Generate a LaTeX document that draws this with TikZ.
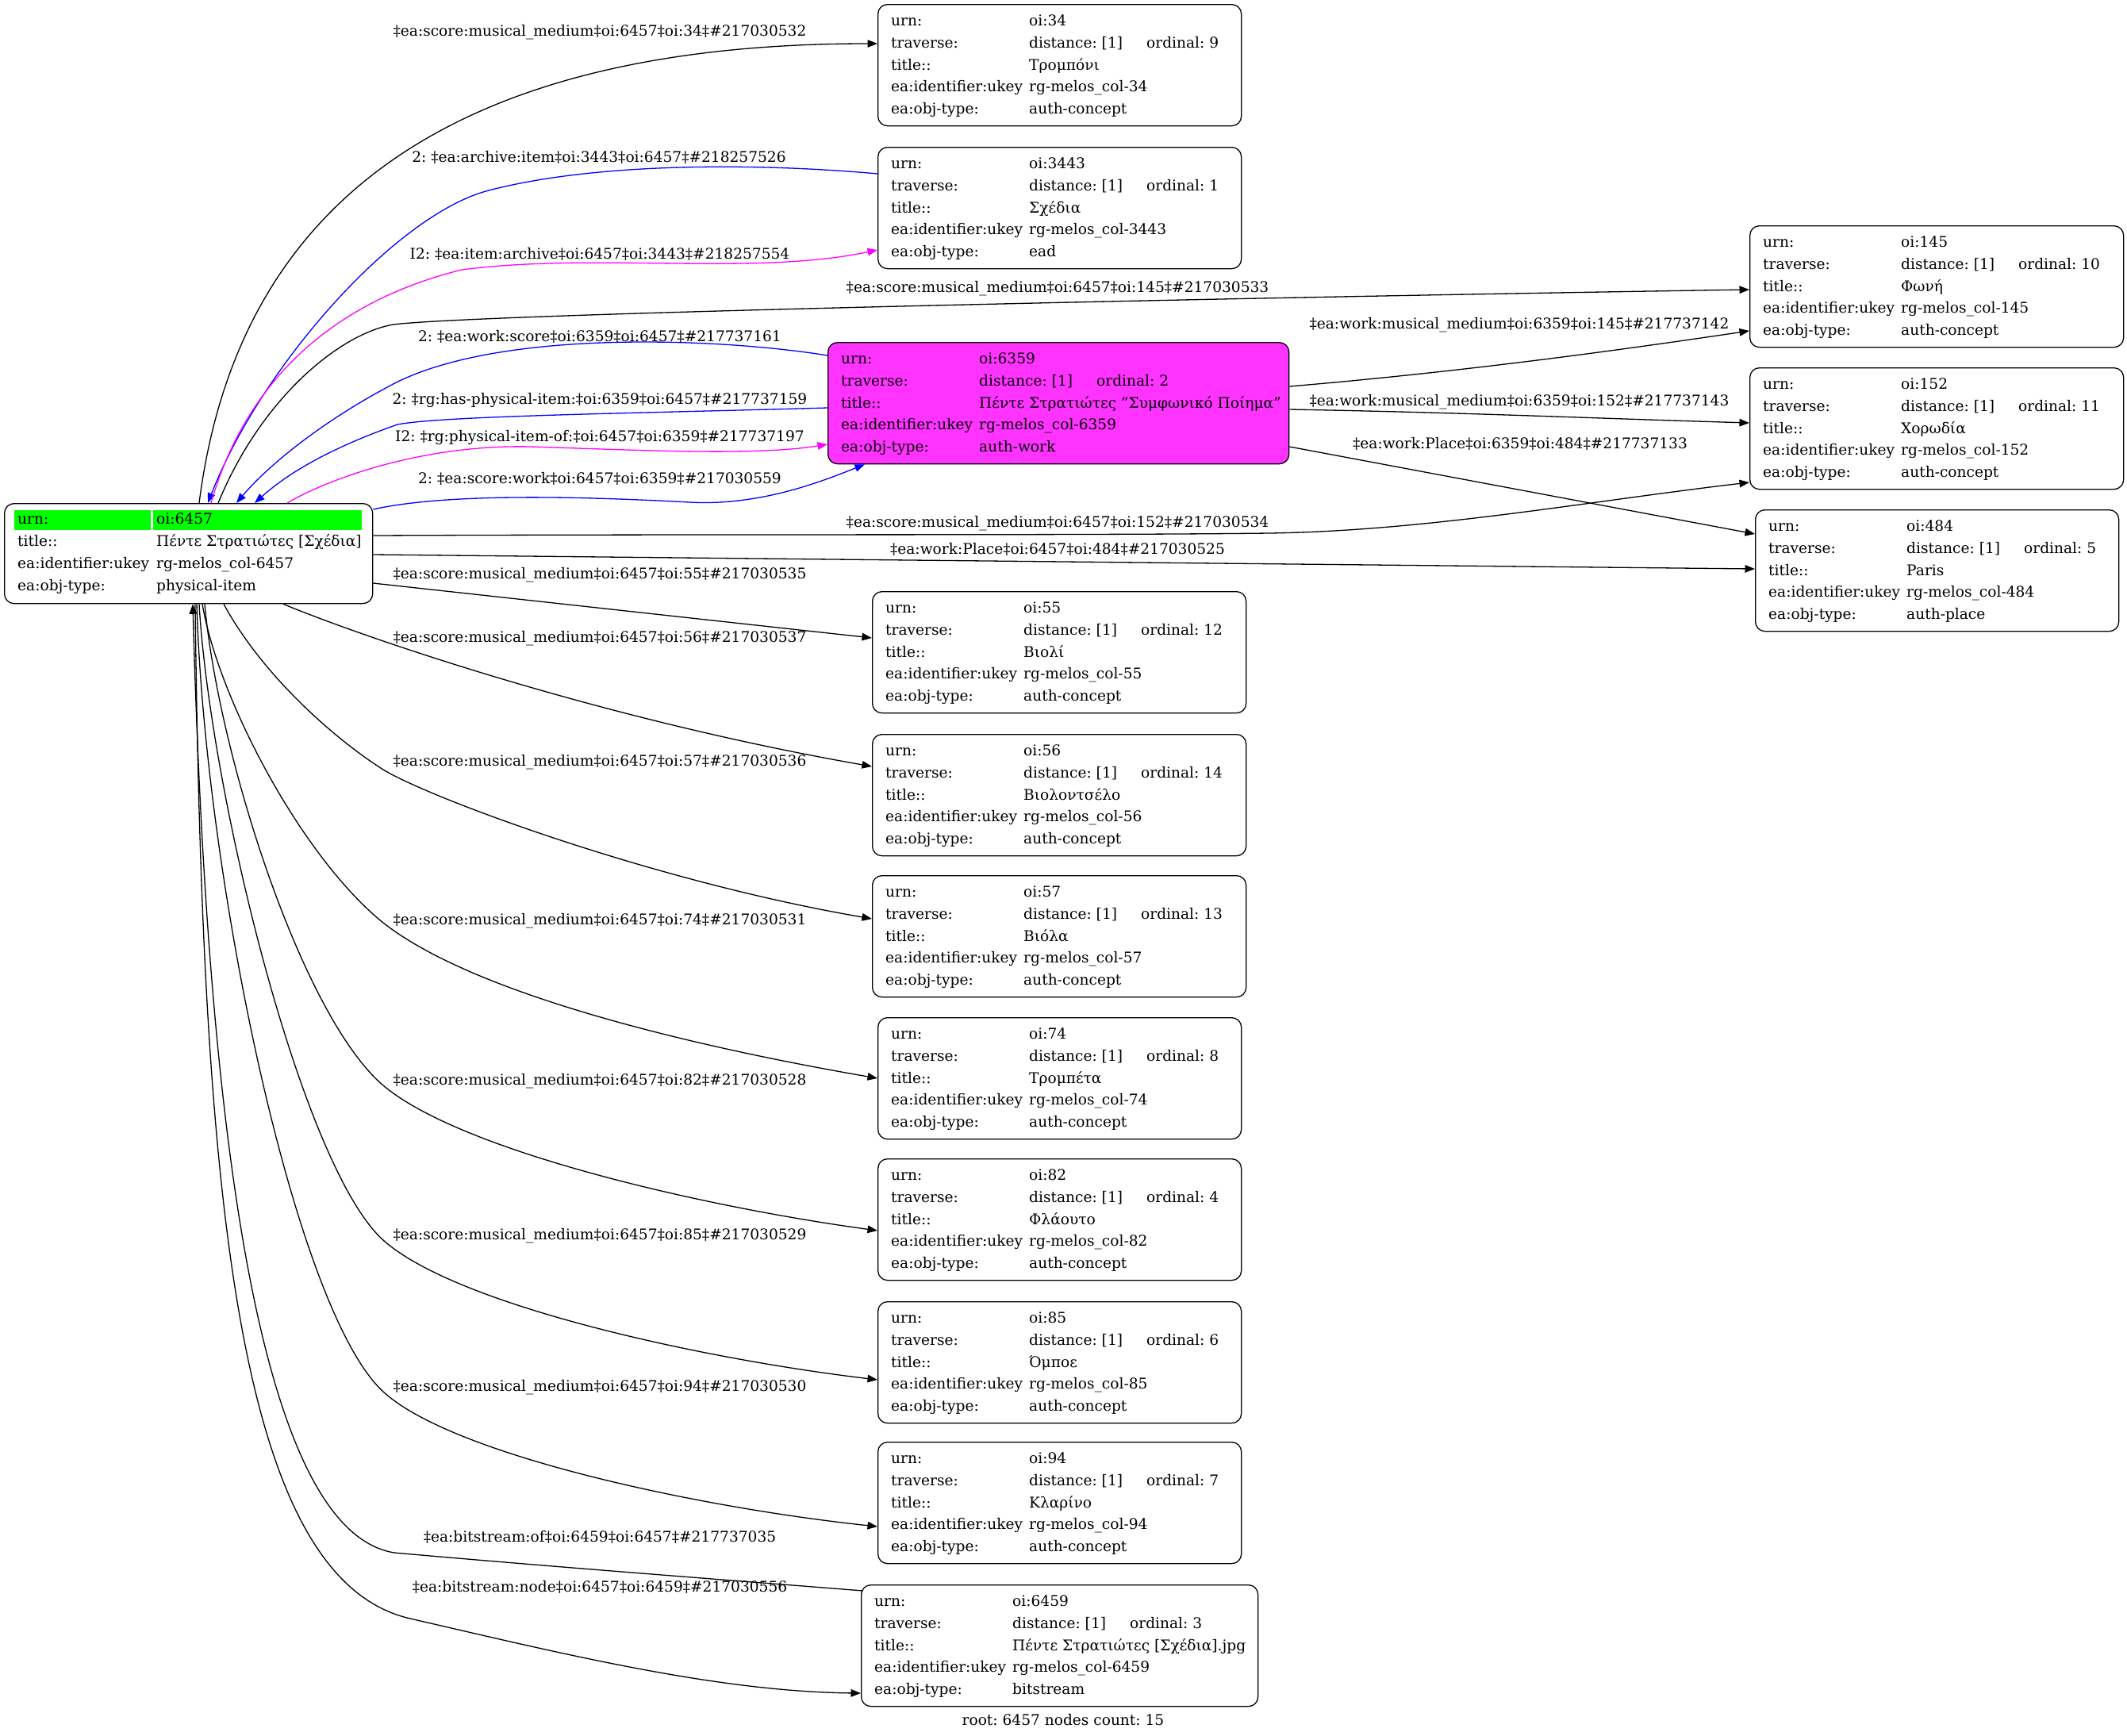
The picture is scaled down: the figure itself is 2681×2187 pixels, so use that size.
\documentclass[tikz,border=0pt]{standalone}
\usepackage{fontspec}
\setmainfont{DejaVu Serif}
\usetikzlibrary{arrows.meta}
\definecolor{magfill}{RGB}{255,51,255}
\definecolor{grn}{RGB}{0,255,0}
\definecolor{eblue}{RGB}{0,0,255}
\definecolor{emag}{RGB}{255,0,255}
\tikzset{
  recbox/.style={draw=black, line width=1.3pt, rounded corners=12pt, minimum height=153pt, inner sep=0pt},
  cell/.style={inner sep=0pt, anchor=base west, font=\fontsize{18.6pt}{22pt}\selectfont},
  lbl/.style={inner sep=0pt, anchor=center, font=\fontsize{18.6pt}{22pt}\selectfont},
  conn/.style={line width=1.3pt, -{Triangle[length=12.5pt,width=9.5pt]}},
}
\newcommand{\recnode}[9]{%
  \node[recbox, minimum width=#4pt, anchor=north west] (#1) at (#2,#3) {};
  \node[cell] (#1-k1) at ([shift={(17pt,-27pt)}]#1.north west) {urn:};
  \node[cell] (#1-v1) at ([shift={(191pt,-27pt)}]#1.north west) {#5};
  \node[cell] (#1-k2) at ([shift={(17pt,-55pt)}]#1.north west) {traverse:};
  \node[cell] (#1-v2) at ([shift={(191pt,-55pt)}]#1.north west) {distance: [1]};
  \node[cell] (#1-o2) at ([shift={(339pt,-55pt)}]#1.north west) {ordinal: #6};
  \node[cell] (#1-k3) at ([shift={(17pt,-83pt)}]#1.north west) {title::};
  \node[cell] (#1-v3) at ([shift={(191pt,-83pt)}]#1.north west) {#7};
  \node[cell] (#1-k4) at ([shift={(17pt,-110pt)}]#1.north west) {ea:identifier:ukey};
  \node[cell] (#1-v4) at ([shift={(191pt,-110pt)}]#1.north west) {#8};
  \node[cell] (#1-k5) at ([shift={(17pt,-138pt)}]#1.north west) {ea:obj-type:};
  \node[cell] (#1-v5) at ([shift={(191pt,-138pt)}]#1.north west) {#9};
}
\newcommand{\sq}{\char34 }
\frenchspacing
\begin{document}
\begin{tikzpicture}[x=1pt,y=-1pt]
\useasboundingbox[fill=white] (0,0) rectangle (2681,2187);

% root node
\node[recbox, minimum width=464pt, minimum height=126pt, anchor=north west] (r6457) at (5,634) {};
\fill[grn] (18,643) rectangle (190,668);
\fill[grn] (193,643) rectangle (456,668);
\node[cell] (r-k1) at (22,660) {urn:};
\node[cell] (r-v1) at (197,660) {oi:6457};
\node[cell] (r-k2) at (22,688) {title::};
\node[cell] (r-v2) at (197,688) {Πέντε Στρατιώτες [Σχέδια]};
\node[cell] (r-k3) at (22,716) {ea:identifier:ukey};
\node[cell] (r-v3) at (197,716) {rg-melos\_col-6457};
\node[cell] (r-k4) at (22,744) {ea:obj-type:};
\node[cell] (r-v4) at (197,744) {physical-item};

\recnode{n34}{1106}{5}{458}{oi:34}{9}{Τρομπόνι}{rg-melos\_col-34}{auth-concept}
\recnode{n3443}{1106}{185}{458}{oi:3443}{1}{Σχέδια}{rg-melos\_col-3443}{ead}
\recnode{n145}{2205}{284}{471}{oi:145}{10}{Φωνή}{rg-melos\_col-145}{auth-concept}
\begin{scope}[recbox/.append style={fill=magfill}]
\recnode{n6359}{1043}{431}{581}{oi:6359}{2}{Πέντε Στρατιώτες \sq Συμφωνικό Ποίημα\sq}{rg-melos\_col-6359}{auth-work}
\end{scope}
\recnode{n152}{2205}{463}{471}{oi:152}{11}{Χορωδία}{rg-melos\_col-152}{auth-concept}
\recnode{n484}{2212}{642}{458}{oi:484}{5}{Paris}{rg-melos\_col-484}{auth-place}
\recnode{n55}{1099}{745}{471}{oi:55}{12}{Βιολί}{rg-melos\_col-55}{auth-concept}
\recnode{n56}{1099}{925}{471}{oi:56}{14}{Βιολοντσέλο}{rg-melos\_col-56}{auth-concept}
\recnode{n57}{1099}{1103}{471}{oi:57}{13}{Βιόλα}{rg-melos\_col-57}{auth-concept}
\recnode{n74}{1106}{1282}{458}{oi:74}{8}{Τρομπέτα}{rg-melos\_col-74}{auth-concept}
\recnode{n82}{1106}{1460}{458}{oi:82}{4}{Φλάουτο}{rg-melos\_col-82}{auth-concept}
\recnode{n85}{1106}{1640}{458}{oi:85}{6}{Όμποε}{rg-melos\_col-85}{auth-concept}
\recnode{n94}{1106}{1817}{458}{oi:94}{7}{Κλαρίνο}{rg-melos\_col-94}{auth-concept}
\recnode{n6459}{1085}{1997}{500}{oi:6459}{3}{Πέντε Στρατιώτες [Σχέδια].jpg}{rg-melos\_col-6459}{bitstream}

% connectors
\draw[conn] (r6457.north -| 251,0) .. controls (290,330) and (480,55) .. (n34.west |- 0,55);
\draw[conn,eblue] (n3443.west |- 0,219) .. controls (950,205) and (750,205) .. (616,240) .. controls (500,270) and (330,460) .. (r6457.north -| 262,0);
\draw[conn,emag] (r6457.north -| 266,0) .. controls (310,480) and (420,380) .. (582,340) .. controls (750,318) and (950,348) .. (n3443.west |- 0,315);
\draw[conn] (r6457.north -| 275,0) .. controls (330,500) and (430,420) .. (496,409) .. controls (600,396) and (1500,376) .. (n145.west |- 0,365);
\draw[conn,eblue] (n6359.west |- 0,448) .. controls (900,425) and (620,415) .. (490,487) .. controls (400,535) and (335,590) .. (r6457.north -| 298,0);
\draw[conn,eblue] (n6359.west |- 0,514) .. controls (800,521) and (560,524) .. (501,535) .. controls (430,560) and (370,590) .. (r6457.north -| 321,0);
\draw[conn,emag] (r6457.north -| 362,0) .. controls (420,600) and (540,560) .. (668,563) .. controls (800,567) and (950,575) .. (n6359.west |- 0,560);
\draw[conn,eblue] (r6457.east |- 0,642) .. controls (560,622) and (720,625) .. (869,633) .. controls (960,638) and (1040,605) .. (n6359.south -| 1090,0);
\draw[conn] (n6359.east |- 0,487) .. controls (1850,468) and (2050,440) .. (n145.west |- 0,417);
\draw[conn] (n6359.east |- 0,516) .. controls (1850,520) and (2000,527) .. (n152.west |- 0,533);
\draw[conn] (n6359.east |- 0,563) -- (n484.west |- 0,673);
\draw[conn] (r6457.east |- 0,675) .. controls (900,673) and (1350,675) .. (1600,672) .. controls (1800,669) and (2000,632) .. (n152.west |- 0,608);
\draw[conn] (r6457.east |- 0,699) -- (n484.west |- 0,717);
\draw[conn] (r6457.east |- 0,735) -- (n55.west |- 0,804);
\draw[conn] (r6457.south -| 357,0) .. controls (450,800) and (750,905) .. (n56.west |- 0,966);
\draw[conn] (r6457.south -| 282,0) .. controls (330,850) and (420,930) .. (483,970) .. controls (540,1005) and (820,1110) .. (n57.west |- 0,1158);
\draw[conn] (r6457.south -| 255,0) .. controls (275,880) and (380,1080) .. (483,1163) .. controls (600,1255) and (880,1320) .. (n74.west |- 0,1359);
\draw[conn] (r6457.south -| 258,0) .. controls (275,950) and (380,1280) .. (483,1368) .. controls (580,1450) and (880,1520) .. (n82.west |- 0,1551);
\draw[conn] (r6457.south -| 251,0) .. controls (265,1000) and (380,1470) .. (483,1563) .. controls (575,1645) and (880,1712) .. (n85.west |- 0,1739);
\draw[conn] (r6457.south -| 248,0) .. controls (258,1100) and (370,1650) .. (483,1754) .. controls (570,1834) and (880,1900) .. (n94.west |- 0,1924);
\draw[conn] ([shift={(3pt,-8pt)}]n6459.north west) .. controls (900,1990) and (700,1975) .. (497,1957) .. controls (330,1930) and (262,1450) .. (r6457.south -| 243,0);
\draw[conn] (r6457.south -| 246,0) .. controls (255,1520) and (300,1990) .. (517,2040) .. controls (700,2082) and (900,2132) .. (n6459.west |- 0,2134);

% edge labels
\node[lbl] (l1) at (756,41) {‡ea:score:musical\_medium‡oi:6457‡oi:34‡\#217030532};
\node[lbl] (l2) at (755,198) {2: ‡ea:archive:item‡oi:3443‡oi:6457‡\#218257526};
\node[lbl] (l3) at (756,320) {I2: ‡ea:item:archive‡oi:6457‡oi:3443‡\#218257554};
\node[lbl] (l4) at (1333,364) {‡ea:score:musical\_medium‡oi:6457‡oi:145‡\#217030533};
\node[lbl] (l5) at (756,424) {2: ‡ea:work:score‡oi:6359‡oi:6457‡\#217737161};
\node[lbl] (l6) at (756,504) {2: ‡rg:has-physical-item:‡oi:6359‡oi:6457‡\#217737159};
\node[lbl] (l7) at (756,551) {I2: ‡rg:physical-item-of:‡oi:6457‡oi:6359‡\#217737197};
\node[lbl] (l8) at (756,603) {2: ‡ea:score:work‡oi:6457‡oi:6359‡\#217030559};
\node[lbl] (l9) at (1915,410) {‡ea:work:musical\_medium‡oi:6359‡oi:145‡\#217737142};
\node[lbl] (l10) at (1915,507) {‡ea:work:musical\_medium‡oi:6359‡oi:152‡\#217737143};
\node[lbl] (l11) at (1916,559) {‡ea:work:Place‡oi:6359‡oi:484‡\#217737133};
\node[lbl] (l12) at (1333,660) {‡ea:score:musical\_medium‡oi:6457‡oi:152‡\#217030534};
\node[lbl] (l13) at (1333,692) {‡ea:work:Place‡oi:6457‡oi:484‡\#217030525};
\node[lbl] (l14) at (756,725) {‡ea:score:musical\_medium‡oi:6457‡oi:55‡\#217030535};
\node[lbl] (l15) at (756,805) {‡ea:score:musical\_medium‡oi:6457‡oi:56‡\#217030537};
\node[lbl] (l16) at (756,961) {‡ea:score:musical\_medium‡oi:6457‡oi:57‡\#217030536};
\node[lbl] (l17) at (756,1161) {‡ea:score:musical\_medium‡oi:6457‡oi:74‡\#217030531};
\node[lbl] (l18) at (756,1363) {‡ea:score:musical\_medium‡oi:6457‡oi:82‡\#217030528};
\node[lbl] (l19) at (756,1558) {‡ea:score:musical\_medium‡oi:6457‡oi:85‡\#217030529};
\node[lbl] (l20) at (756,1749) {‡ea:score:musical\_medium‡oi:6457‡oi:94‡\#217030530};
\node[lbl] (l21) at (756,1937) {‡ea:bitstream:of‡oi:6459‡oi:6457‡\#217737035};
\node[lbl] (l22) at (756,2000) {‡ea:bitstream:node‡oi:6457‡oi:6459‡\#217030556};
\node[lbl] (footer) at (1340,2168) {root: 6457 nodes count: 15};
\end{tikzpicture}
\end{document}
